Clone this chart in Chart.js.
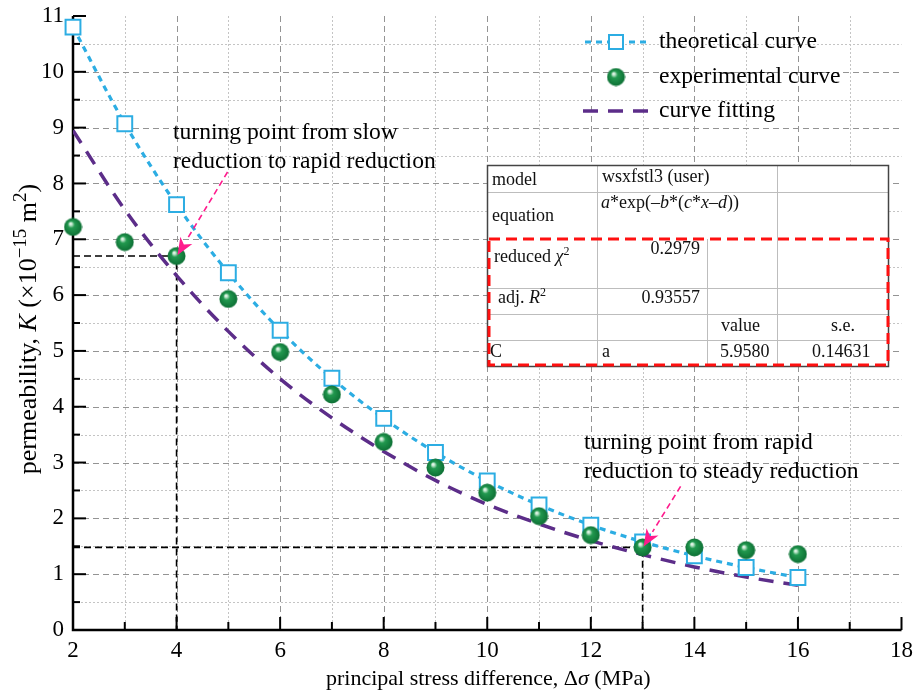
<!DOCTYPE html>
<html><head><meta charset="utf-8">
<script src="https://cdn.jsdelivr.net/npm/chart.js@4.4.0/dist/chart.umd.min.js"></script>
<style>html,body{margin:0;padding:0;background:#fff}#wrap{width:914px;height:691px}</style>
</head><body><div id="wrap"><canvas id="ch" width="914" height="691"></canvas></div>
<script>
// datos
const stress=[2,3,4,5,6,7,8,9,10,11,12,13,14,15,16];
const theoretical=[10.8,9.07,7.62,6.40,5.37,4.51,3.79,3.18,2.67,2.24,1.88,1.58,1.33,1.12,0.94];
const experimental=[7.22,6.95,6.70,5.93,4.98,4.22,3.37,2.91,2.46,2.04,1.70,1.48,1.48,1.43,1.36];
const fitting=[8.95,7.53,6.35,5.35,4.50,3.80,3.20,2.68,2.25,1.90,1.60,1.35,1.13,0.95,0.80];
const turnX=[4,13],turnY=[6.70,1.48];
const xTicks=[2,4,6,8,10,12,14,16,18],yTicks=[0,1,2,3,4,5,6,7,8,9,10,11];

const SERIF='"Liberation Serif","Times New Roman",serif';
const AZUL="#2CADE3",MORADO="#5C2D89",ROSA="#FF1B8D";

function bola(d){
  const c=document.createElement("canvas");c.width=c.height=d;
  const g=c.getContext("2d"),r=d/2;
  const gr=g.createRadialGradient(r*0.72,r*0.62,0,r,r,r);
  gr.addColorStop(0,"#ffffff");gr.addColorStop(0.15,"#bfe6cc");gr.addColorStop(0.36,"#22994f");gr.addColorStop(1,"#0c6d33");
  g.fillStyle=gr;g.beginPath();g.arc(r,r,r-0.5,0,Math.PI*2);g.fill();return c;
}
const BOLA=bola(19);

// texto con cursiva / superindice: partes [texto, estilo]
function rich(ctx,parts,x,y,align,size,supK){
  const k=supK||0.65;
  const f=(st)=>{const sup=st.indexOf("s")>=0,it=st.indexOf("i")>=0;return (it?"italic ":"")+(sup?Math.round(size*k):size)+"px "+SERIF;};
  let w=0;parts.forEach(([t,st])=>{ctx.font=f(st);w+=ctx.measureText(t).width;});
  let cx=align==="center"?x-w/2:align==="right"?x-w:x;
  ctx.textAlign="left";
  parts.forEach(([t,st])=>{ctx.font=f(st);const up=st.indexOf("s")>=0?size*0.4:0;ctx.fillText(t,cx,y-up);cx+=ctx.measureText(t).width;});
}

const fondo={id:"fondo",beforeDatasetsDraw(chart){
  const {ctx,chartArea:a,scales:{x,y}}=chart;
  ctx.save();ctx.lineWidth=1;
  const lineaV=(v)=>{const p=Math.round(x.getPixelForValue(v))+0.5;ctx.beginPath();ctx.moveTo(p,a.top);ctx.lineTo(p,a.bottom);ctx.stroke();};
  const lineaH=(v)=>{const p=Math.round(y.getPixelForValue(v))+0.5;ctx.beginPath();ctx.moveTo(a.left,p);ctx.lineTo(a.right,p);ctx.stroke();};
  ctx.strokeStyle="#c4c4c4";ctx.setLineDash([2,2]);
  for(let i=0;i<xTicks.length-1;i++)lineaV((xTicks[i]+xTicks[i+1])/2);
  for(let i=0;i<yTicks.length-1;i++)lineaH((yTicks[i]+yTicks[i+1])/2);
  ctx.strokeStyle="#949494";ctx.setLineDash([6,4]);
  xTicks.slice(1,-1).forEach(lineaV);yTicks.slice(1,-1).forEach(lineaH);
  ctx.setLineDash([]);ctx.strokeStyle="#000";
  // ejes
  ctx.lineWidth=2.5;ctx.beginPath();ctx.moveTo(a.left,a.top);ctx.lineTo(a.left,a.bottom);ctx.lineTo(a.right,a.bottom);ctx.stroke();
  ctx.lineWidth=2;
  xTicks.forEach((v,i)=>{const p=x.getPixelForValue(v);ctx.beginPath();ctx.moveTo(p,a.bottom);ctx.lineTo(p,a.bottom-13);ctx.stroke();
    if(i<xTicks.length-1){const m=x.getPixelForValue((v+xTicks[i+1])/2);ctx.beginPath();ctx.moveTo(m,a.bottom);ctx.lineTo(m,a.bottom-8);ctx.stroke();}});
  yTicks.forEach((v,i)=>{const p=y.getPixelForValue(v);ctx.beginPath();ctx.moveTo(a.left,p);ctx.lineTo(a.left+13,p);ctx.stroke();
    if(i<yTicks.length-1){const m=y.getPixelForValue((v+yTicks[i+1])/2);ctx.beginPath();ctx.moveTo(a.left,m);ctx.lineTo(a.left+7,m);ctx.stroke();}});
  ctx.restore();
}};

const notas={id:"notas",afterDatasetsDraw(chart){
  const {ctx,chartArea:a,scales:{x,y}}=chart;
  ctx.save();ctx.fillStyle="#000";ctx.textBaseline="alphabetic";
  // flechas rosas hacia los puntos de inflexion
  const off=[[50,-83],[37,-60]];
  turnX.forEach((tx,i)=>{
    const ex=x.getPixelForValue(tx)+1,ey=y.getPixelForValue(turnY[i])-1,sx=ex+off[i][0],sy=ey+off[i][1];
    const ang=Math.atan2(ey-sy,ex-sx),L=17,W=7,c=Math.cos(ang),s=Math.sin(ang);
    ctx.strokeStyle=ROSA;ctx.fillStyle=ROSA;ctx.lineWidth=1.6;ctx.setLineDash([6,4]);
    ctx.beginPath();ctx.moveTo(sx,sy);ctx.lineTo(ex-c*L,ey-s*L);ctx.stroke();ctx.setLineDash([]);
    ctx.beginPath();ctx.moveTo(ex,ey);
    ctx.lineTo(ex-c*L-s*W,ey-s*L+c*W);
    ctx.lineTo(ex-c*L*0.72,ey-s*L*0.72);
    ctx.lineTo(ex-c*L+s*W,ey-s*L-c*W);
    ctx.closePath();ctx.fill();
  });
  ctx.fillStyle="#000";ctx.font="23.6px "+SERIF;ctx.textAlign="left";
  ctx.fillText("turning point from slow",173,139);ctx.fillText("reduction to rapid reduction",173,168);
  ctx.fillText("turning point from rapid",584,449);ctx.fillText("reduction to steady reduction",584,478);

  // tabla del ajuste
  const X0=487,X1=597,X2=707,X3=777,X4=888,R=[165,192,239,288,314,340,366];
  ctx.fillStyle="#fff";ctx.fillRect(X0,R[0],X4-X0,R[6]-R[0]);
  ctx.strokeStyle="#bdbdbd";ctx.lineWidth=1;
  [R[1],R[3],R[4],R[5]].forEach(r=>{ctx.beginPath();ctx.moveTo(X0,r+0.5);ctx.lineTo(X4,r+0.5);ctx.stroke();});
  [X1,X3].forEach(c=>{ctx.beginPath();ctx.moveTo(c+0.5,R[0]);ctx.lineTo(c+0.5,R[6]);ctx.stroke();});
  ctx.beginPath();ctx.moveTo(X2+0.5,R[2]);ctx.lineTo(X2+0.5,R[6]);ctx.stroke();
  ctx.strokeStyle="#444";ctx.lineWidth=1.5;ctx.strokeRect(X0+0.5,R[0]+0.5,X4-X0,R[6]-R[0]);
  ctx.strokeStyle="#ff1010";ctx.lineWidth=3;ctx.setLineDash([11,6]);ctx.strokeRect(X0+2,R[2],X4-X0-2,R[6]-R[2]-1);ctx.setLineDash([]);
  ctx.fillStyle="#111";const S=18;
  rich(ctx,[["model",""]],492,185,"left",S);
  rich(ctx,[["wsxfstl3 (user)",""]],602,182,"left",S);
  rich(ctx,[["equation",""]],492,221,"left",S);
  rich(ctx,[["a","i"],["*exp(\u2013",""],["b","i"],["*(",""],["c","i"],["*",""],["x","i"],["\u2013",""],["d","i"],["))",""]],601,208,"left",S);
  rich(ctx,[["reduced ",""],["\u03c7","i"],["2","s"]],494,262,"left",S);
  rich(ctx,[["0.2979",""]],700,254,"right",S);
  rich(ctx,[["adj. ",""],["R","i"],["2","s"]],498,303,"left",S);
  rich(ctx,[["0.93557",""]],700,303,"right",S);
  rich(ctx,[["value",""]],721,331,"left",S);
  rich(ctx,[["s.e.",""]],831,331,"left",S);
  rich(ctx,[["C",""]],490,357,"left",S);
  rich(ctx,[["a",""]],602,357,"left",S);
  rich(ctx,[["5.9580",""]],720,357,"left",S);
  rich(ctx,[["0.14631",""]],812,357,"left",S);

  // leyenda
  ctx.lineCap="butt";
  ctx.strokeStyle=AZUL;ctx.lineWidth=3;ctx.setLineDash([6,5]);
  ctx.beginPath();ctx.moveTo(585,42);ctx.lineTo(648,42);ctx.stroke();ctx.setLineDash([]);
  ctx.fillStyle="#fff";ctx.lineWidth=2;ctx.fillRect(609,35,14,14);ctx.strokeRect(609,35,14,14);
  ctx.drawImage(BOLA,616-BOLA.width/2,77-BOLA.height/2);
  ctx.strokeStyle=MORADO;ctx.lineWidth=3.5;ctx.setLineDash([15,10]);
  ctx.beginPath();ctx.moveTo(583,111);ctx.lineTo(650,111);ctx.stroke();ctx.setLineDash([]);
  ctx.fillStyle="#000";ctx.font="23.6px "+SERIF;ctx.textBaseline="middle";
  ctx.fillText("theoretical curve",659,42);ctx.fillText("experimental curve",659,77);ctx.fillText("curve fitting",659,111);

  // titulos de ejes
  ctx.textBaseline="alphabetic";ctx.fillStyle="#000";
  rich(ctx,[["principal stress difference, \u0394",""],["\u03c3","i"],[" (MPa)",""]],(a.left+a.right)/2+1,685,"center",22);
  ctx.translate(36,(a.top+a.bottom)/2+6);ctx.rotate(-Math.PI/2);
  rich(ctx,[["permeability, ",""],["K","i"],[" (\u00d710",""],["\u221215","s"],[" m",""],["2","s"],[")",""]],0,0,"center",26,0.72);
  ctx.restore();
}};

const pts=(ys)=>stress.map((v,i)=>({x:v,y:ys[i]}));
const refA=[{x:xTicks[0],y:turnY[0]},{x:turnX[0],y:turnY[0]},{x:turnX[0],y:yTicks[0]}];
const refB=[{x:xTicks[0],y:turnY[1]},{x:turnX[1],y:turnY[1]},{x:turnX[1],y:yTicks[0]}];
const refDs=(d)=>({data:d,borderColor:"#000",borderWidth:1.6,borderDash:[7,4],pointRadius:0,fill:false,tension:0,order:5});

Chart.defaults.font.family=SERIF;
new Chart(document.getElementById("ch"),{
  type:"line",
  data:{datasets:[
    {label:"experimental curve",data:pts(experimental),showLine:false,pointStyle:BOLA,pointRadius:10,clip:false,order:1},
    {label:"theoretical curve",data:pts(theoretical),borderColor:AZUL,borderWidth:3.2,borderDash:[6,5],pointStyle:"rect",pointRadius:10.5,pointBorderWidth:2,pointBorderColor:AZUL,pointBackgroundColor:"#fff",cubicInterpolationMode:"monotone",clip:false,order:2},
    {label:"curve fitting",data:pts(fitting),borderColor:MORADO,borderWidth:3.5,borderDash:[15,10],pointRadius:0,cubicInterpolationMode:"monotone",order:3},
    refDs(refA),refDs(refB)
  ]},
  options:{
    responsive:false,animation:false,devicePixelRatio:1,
    layout:{padding:{top:16,right:11,left:0,bottom:0}},
    plugins:{legend:{display:false},tooltip:{enabled:false}},
    scales:{
      x:{type:"linear",min:2,max:18,afterBuildTicks:s=>{s.ticks=xTicks.map(v=>({value:v}));},
        ticks:{color:"#000",font:{family:SERIF,size:23},padding:7,maxRotation:0,autoSkip:false},
        grid:{display:false,drawTicks:false},border:{display:false},
        afterFit:s=>{s.height=61;s.paddingLeft=0;s.paddingRight=0;}},
      y:{type:"linear",min:0,max:11,afterBuildTicks:s=>{s.ticks=yTicks.map(v=>({value:v}));},
        ticks:{color:"#000",font:{family:SERIF,size:23},padding:9,autoSkip:false},
        grid:{display:false,drawTicks:false},border:{display:false},
        afterFit:s=>{s.width=73;s.paddingTop=0;s.paddingBottom=0;}}
    }
  },
  plugins:[fondo,notas]
});
</script></body></html>
